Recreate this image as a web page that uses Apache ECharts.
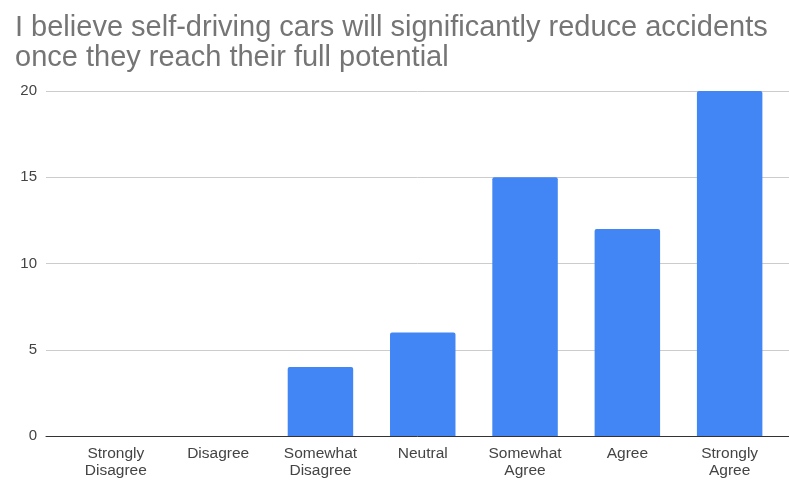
<!DOCTYPE html>
<html>
<head>
<meta charset="utf-8">
<script src="https://cdn.jsdelivr.net/npm/echarts@6/dist/echarts.min.js"></script>
<style>
  html, body { margin: 0; padding: 0; background: #fff; }
  #chart { width: 789px; height: 481px; }
</style>
</head>
<body>
<div id="chart"></div>
<script>
// Survey responses per agreement level
const titleText = 'I believe self-driving cars will significantly reduce accidents\nonce they reach their full potential';
const categories = ['Strongly\nDisagree', 'Disagree', 'Somewhat\nDisagree', 'Neutral', 'Somewhat\nAgree', 'Agree', 'Strongly\nAgree'];
const responses = [0, 0, 4, 6, 15, 12, 20];
const yMin = 0, yMax = 20, yStep = 5;

const chart = echarts.init(document.getElementById('chart'), null, { renderer: 'canvas' });

const font = '"Liberation Sans", Arial, sans-serif';
chart.setOption({
  animation: false,
  backgroundColor: '#ffffff',
  title: {
    text: titleText,
    left: 10,
    top: 8,
    textStyle: { fontFamily: font, fontSize: 29, fontWeight: 'normal', color: '#757575', lineHeight: 30 }
  },
  grid: [
    // wide grid: value labels, gridlines and the baseline
    { left: 46, right: 0, top: 91, bottom: 45, containLabel: false },
    // inner grid holding the bars
    { left: 64.7, right: 8.2, top: 91, bottom: 45, containLabel: false }
  ],
  xAxis: [
    {
      gridIndex: 0, type: 'value', min: 0, max: 1,
      axisLine: { show: true, onZero: false, lineStyle: { color: '#333333', width: 1 } },
      axisTick: { show: false }, axisLabel: { show: false }, splitLine: { show: false }
    },
    {
      gridIndex: 1, type: 'category', data: categories,
      axisLine: { show: false }, axisTick: { show: false },
      axisLabel: { color: '#444444', fontFamily: font, fontSize: 15.5, lineHeight: 17, margin: 9, interval: 0 }
    }
  ],
  yAxis: [
    {
      gridIndex: 0, type: 'value', min: yMin, max: yMax, interval: yStep,
      axisLine: { show: false }, axisTick: { show: false },
      axisLabel: { color: '#444444', fontFamily: font, fontSize: 15, margin: 9 },
      splitLine: { lineStyle: { color: '#cccccc', width: 1 } }
    },
    {
      gridIndex: 1, type: 'value', min: yMin, max: yMax, interval: yStep,
      show: false, splitLine: { show: false }
    }
  ],
  series: [{
    type: 'bar',
    xAxisIndex: 1,
    yAxisIndex: 1,
    data: responses,
    barCategoryGap: '36%',
    itemStyle: { color: '#4285F4', borderRadius: [2, 2, 0, 0] }
  }]
});
</script>
</body>
</html>
